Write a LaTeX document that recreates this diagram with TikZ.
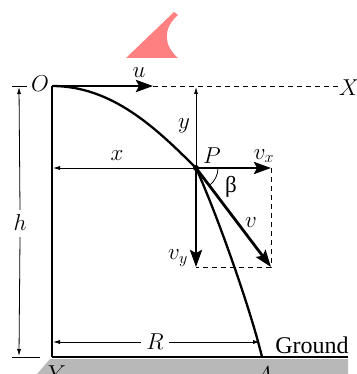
\RequirePackage{fix-cm}
\documentclass[tikz,border=0pt]{standalone}
\usepackage{fontspec}
\setmainfont{Liberation Serif}
\usetikzlibrary{arrows.meta}
\definecolor{pinkc}{HTML}{FF8080}
\definecolor{groundc}{HTML}{B8B8B8}
\begin{document}
\begin{tikzpicture}[x=1pt,y=-1pt,
  dim/.style={line width=0.8pt},
  dimtip/.style={-{Latex[length=7pt,width=4pt]}},
  vec/.style={line width=2.8pt,-{Stealth[length=17pt,width=12pt,inset=3pt]}},
  lbl/.style={font=\fontsize{23}{25}\selectfont, inner sep=0pt},
  thindash/.style={line width=0.8pt,dash pattern=on 5pt off 4pt}]
\useasboundingbox (0,0) rectangle (356,374);
% watermark fragment
\fill[pinkc] (126,58) -- (174,12) -- (178,15) .. controls (163,28) and (163,45) .. (178,58) -- cycle;
% ground
\fill[groundc] (50,359) -- (348,359) -- (348,374) -- (37,374) -- cycle;
\coordinate (O) at (52,86);
\coordinate (P) at (196,168);
\coordinate (A) at (262,357);
\coordinate (Yc) at (52,357);
\coordinate (Gend) at (348,357);
\coordinate (Ue) at (153,86);
\coordinate (Xe) at (338,86);
\coordinate (Vx) at (271,168);
\coordinate (Vy) at (196,267);
\coordinate (V) at (271,267);
% wall and ground line
\draw[line width=2.3pt] (O) -- (Yc);
\draw[line width=2.7pt] (Yc) -- (Gend);
% trajectory
\draw[line width=2.3pt] (O) .. controls (112,86) and (156,128) .. (P) .. controls (216,212) and (250,307) .. (A);
% u and dashed axis
\draw[thindash] (Ue) -- (Xe);
\draw[vec] (O) -- (Ue);
% h dimension
\coordinate (hT1) at (12,86); \coordinate (hT2) at (27,86);
\coordinate (hB1) at (12,357); \coordinate (hB2) at (40,357);
\coordinate (hTa) at (19,87); \coordinate (hBa) at (19,356);
\draw[dim] (hT1) -- (hT2);
\draw[dim] (hB1) -- (hB2);
\node[lbl] (h) at (20,223) {$h$};
\draw[dim,dimtip] (h.north) ++(0,-5) -- (hTa);
\draw[dim,dimtip] (h.south) ++(0,6) -- (hBa);
% y dimension
\coordinate (yT) at (196,87);
\draw[dim,dimtip] (P) -- (yT);
\node[lbl] (ylab) at (184,126) {$y$};
% x dimension
\coordinate (xL) at (53,168);
\draw[dim,dimtip] (P) -- (xL);
\node[lbl] (xlab) at (117,156) {$x$};
% R dimension
\node[lbl] (R) at (155,342) {$R$};
\coordinate (RL) at (53,342); \coordinate (RR) at (260,342);
\draw[dim,dimtip] (R.west) ++(-5,0) -- (RL);
\draw[dim,dimtip] (R.east) ++(5,0) -- (RR);
% velocity components
\draw[thindash] (Vx) -- (V) -- (Vy);
\draw[vec] (P) -- (Vx);
\draw[vec] (P) -- (Vy);
\draw[vec] (P) -- (V);
\draw[dim] ([shift={(22,0)}]P) arc[start angle=0,end angle=53,radius=22];
\fill (P) circle[radius=3];
% labels
\node[lbl] (Olab) at (40,84) {$O$};
\node[lbl] (Xlab) at (349,88) {$X$};
\node[lbl] (ulab) at (139,73) {$u$};
\node[lbl] (Plab) at (212,156) {$P$};
\node[lbl] (vxlab) at (264,156) {$v_x$};
\node[font=\fontsize{23}{25}\selectfont, inner sep=0pt] (blab) at (231,187) {β};
\node[lbl] (vlab) at (251,223) {$v$};
\node[lbl] (vylab) at (178,258) {$v_y$};
\node[lbl] (Ylab) at (57,374) {$Y$};
\node[lbl] (Alab) at (264,375) {$A$};
\node[font=\fontsize{24}{26}\selectfont, inner sep=0pt] (ground) at (312,345) {Ground};
\end{tikzpicture}
\end{document}
